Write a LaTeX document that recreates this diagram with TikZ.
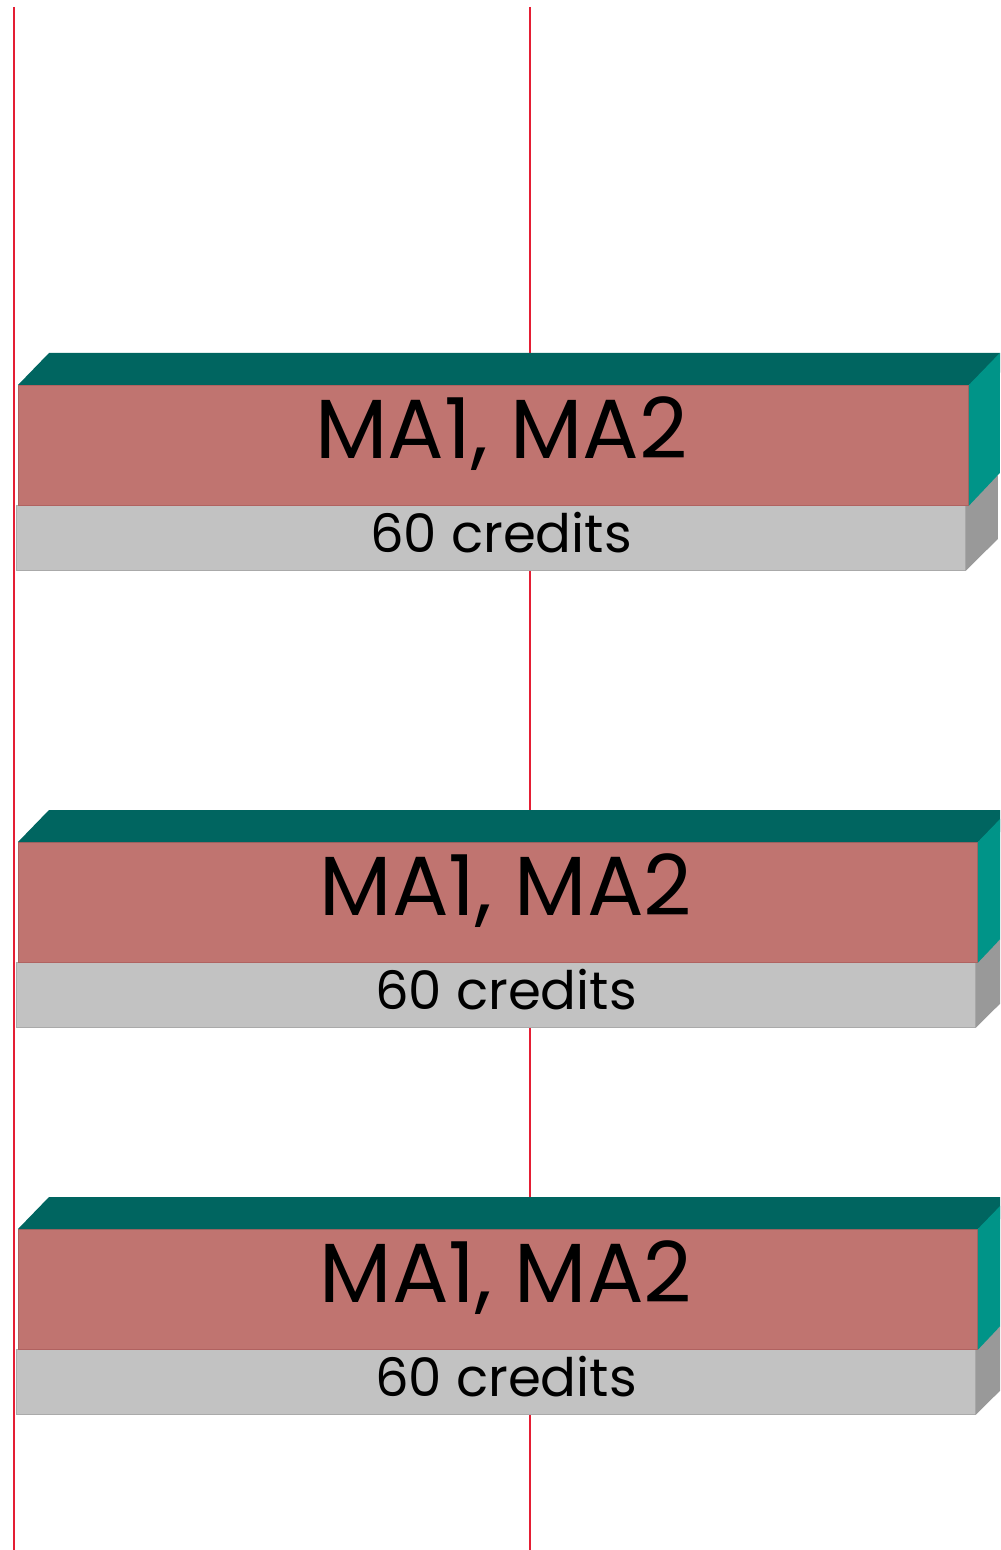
\documentclass[tikz,border=0pt]{standalone}
\usepackage{fontspec}
\setmainfont{Poppins}
\usetikzlibrary{positioning}
\definecolor{top-teal}{RGB}{0,101,96}
\definecolor{side-teal}{RGB}{0,148,136}
\definecolor{front-red}{RGB}{192,116,112}
\definecolor{edge-red}{RGB}{176,98,96}
\definecolor{credit-grey}{RGB}{194,194,194}
\definecolor{credit-edge}{RGB}{170,170,170}
\definecolor{credit-side}{RGB}{153,153,153}
\definecolor{guide-red}{RGB}{228,30,52}
\tikzset{
    course-box/.style = {fill=front-red, draw=edge-red, thin, rectangle, minimum height=60pt, inner sep=0pt, anchor=north west},
    credit-box/.style = {fill=credit-grey, draw=credit-edge, thin, rectangle, minimum height=32.5pt, inner sep=0pt, anchor=north west},
    course-label/.style = {font=\fontsize{42}{42}\selectfont, anchor=base, inner sep=0pt},
    credit-label/.style = {font=\fontsize{26.5}{26.5}\selectfont, anchor=base, inner sep=0pt},
    guide-line/.style = {draw=guide-red, line width=0.6pt},
}

\begin{document}
\begin{tikzpicture}[x=0.5pt, y=-0.5pt]
\useasboundingbox (0,0) rectangle (1000,1550);
\clip (0,0) rectangle (1000,1550);
\draw[guide-line] (14,7) -- (14,1550);
\draw[guide-line] (530,7) -- (530,1550);
\foreach \t/\w/\g/\n in {353/950/949/1, 810/959/959/2, 1197/959/959/3}{
    % credits bar under the course bar
    \node[credit-box, minimum width=\g*0.5pt] (credit\n) at (16,\t+152) {};
    \fill[credit-side] (credit\n.north east) -- ++(32,-30) -- ++(0,64) -- (credit\n.south east) -- cycle;
    \node[credit-label] (credits\n) at ([xshift=5pt, yshift=-7.5pt]credit\n.center) {60 credits};
    % course bar
    \node[course-box, minimum width=\w*0.5pt] (course\n) at (18,\t+32) {};
    \fill[top-teal] (course\n.north west) -- ++(31,-32) -- ++(1000,0) -- (course\n.north east) -- cycle;
    \fill[side-teal] (course\n.north east) -- ++(31,-32) -- ++(0,120) -- (course\n.south east) -- cycle;
    \node[course-label] (ma\n) at ([xshift=4pt, yshift=-6.5pt]course\n.center) {MA1, MA2};
}
\end{tikzpicture}
\end{document}
